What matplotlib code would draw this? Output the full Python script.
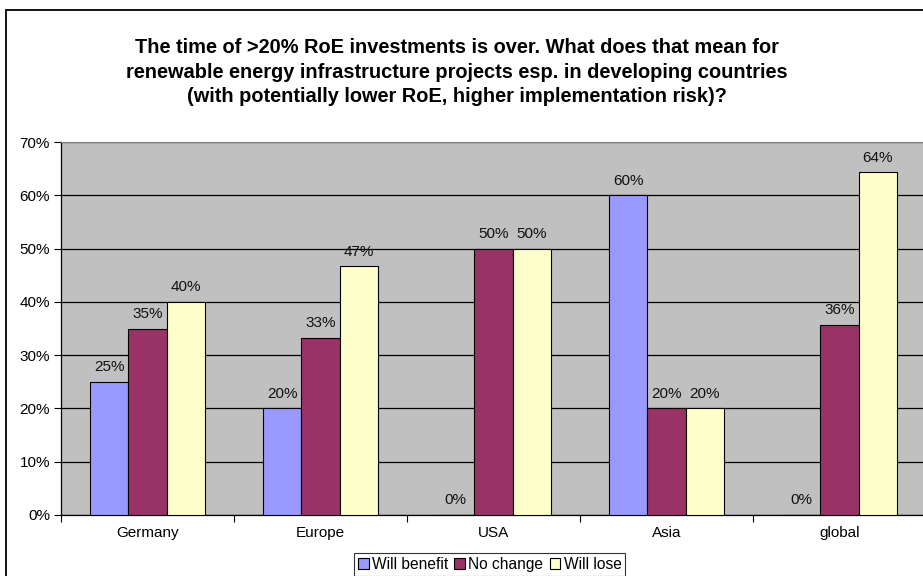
import matplotlib
matplotlib.use("Agg")
import matplotlib.pyplot as plt
from matplotlib.patches import Rectangle
import numpy as np

plt.rcParams['font.family'] = ['Liberation Sans', 'DejaVu Sans']

categories = ["Germany", "Europe", "USA", "Asia", "global"]
series_names = ["Will benefit", "No change", "Will lose"]
will_benefit = [25.0, 20.0, 0.0, 60.0, 0.0]
no_change = [35.0, 33.3, 50.0, 20.0, 35.7]
will_lose = [40.0, 46.7, 50.0, 20.0, 64.3]
y_ticks = [0, 10, 20, 30, 40, 50, 60, 70]

title = ("The time of >20% RoE investments is over. What does that mean for\n"
         "renewable energy infrastructure projects esp. in developing countries\n"
         "(with potentially lower RoE, higher implementation risk)?")

colors = ["#9999FF", "#993366", "#FFFFCC"]

W, H = 923, 576
fig = plt.figure(figsize=(W / 100, H / 100), dpi=100)

# outer chart frame (continues past right and bottom edges)
fig.patches.append(Rectangle((6 / W, -0.1), 1.2, 1 - 10 / H + 0.1,
                             transform=fig.transFigure, fill=False,
                             edgecolor="black", linewidth=1.3, zorder=0))

left, right, top, bottom = 61, 926, 142, 515
ax = fig.add_axes([left / W, 1 - bottom / H, (right - left) / W, (bottom - top) / H])
ax.set_facecolor("#C0C0C0")

x = np.arange(len(categories))
bw = 0.222
series = [will_benefit, no_change, will_lose]
for i, (vals, c) in enumerate(zip(series, colors)):
    pos = x + (i - 1) * bw
    ax.bar(pos, vals, width=bw, color=c, edgecolor="black",
           linewidth=0.8, label=series_names[i], zorder=3)
    for p, v in zip(pos, vals):
        ax.annotate(f"{v:.0f}%", (p, v), xytext=(0, 5.5), textcoords="offset points",
                    ha="center", va="bottom", fontsize=11, color="#111111")

ax.set_xlim(-0.5, len(categories) - 0.5)
ax.set_ylim(0, 70)
ax.set_yticks(y_ticks)
ax.set_yticklabels([f"{t}%" for t in y_ticks], fontsize=11)
ax.yaxis.grid(True, color="black", linewidth=0.9)
ax.set_axisbelow(True)

ax.set_xticks(np.arange(len(categories) + 1) - 0.5)
ax.set_xticklabels([])
ax.set_xticks(x, minor=True)
ax.set_xticklabels(categories, minor=True, fontsize=11)
ax.tick_params(axis="x", which="minor", length=0, pad=8)
ax.tick_params(axis="x", which="major", length=5, width=0.8, direction="out")
ax.tick_params(axis="y", length=5, width=0.8, direction="out", pad=3)

ax.spines["top"].set_color("#808080")
ax.spines["right"].set_visible(False)
ax.spines["left"].set_color("black")
ax.spines["bottom"].set_color("black")
ax.spines["left"].set_linewidth(0.9)
ax.spines["bottom"].set_linewidth(0.9)

fig.text(457 / W, 1 - 72 / H, title, ha="center", va="center",
         fontsize=14.4, fontweight="bold", linespacing=1.38)

leg = fig.legend(loc="upper left", bbox_to_anchor=(354 / W, 1 - 553 / H),
                 ncol=3, fontsize=11.2, frameon=True, fancybox=False,
                 edgecolor="black", handlelength=0.7, handleheight=0.7,
                 handletextpad=0.2, columnspacing=0.4, borderpad=0.25,
                 borderaxespad=0)
leg.get_frame().set_linewidth(0.8)

fig.savefig("out.png", dpi=100)
